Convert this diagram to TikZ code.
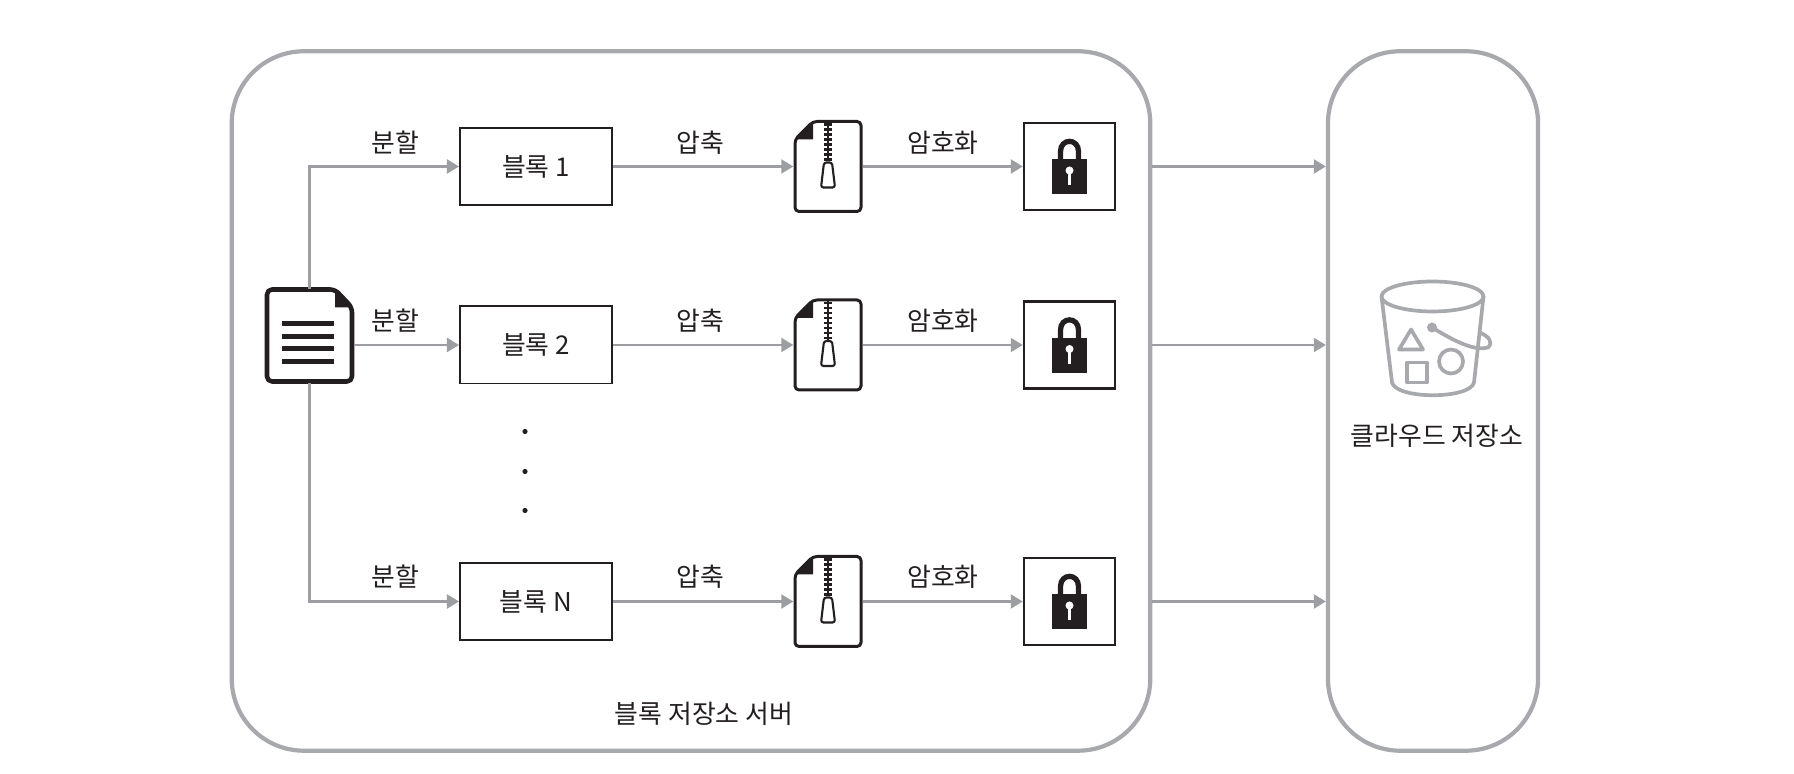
\documentclass[tikz,border=0pt]{standalone}
\usepackage{fontspec}
\setmainfont{Noto Sans CJK KR}
\usetikzlibrary{arrows.meta}
\definecolor{edgegray}{HTML}{A7A9AC}
\definecolor{linkgray}{HTML}{9C9EA1}
\definecolor{inkdark}{HTML}{231F20}
\tikzset{
  every node/.style={font=\fontsize{7.35}{9}\selectfont, text=inkdark},
  container/.style={draw=edgegray, line width=1.2pt, fill=white},
  blockbox/.style={draw=inkdark, line width=0.55pt, minimum width=1.52cm, minimum height=0.77cm},
  lockbox/.style={draw=inkdark, line width=0.7pt, minimum width=0.91cm, minimum height=0.87cm},
  iconspot/.style={minimum width=0.68cm, minimum height=0.90cm, inner sep=0pt},
  docspot/.style={minimum width=0.87cm, minimum height=0.93cm, inner sep=0pt},
  link/.style={draw=linkgray, line width=0.6pt, -{Triangle[length=0.12cm, width=0.14cm]}, color=linkgray},
  icon/.style={draw=inkdark, line width=0.85pt, line join=round},
  bucketline/.style={draw=edgegray, line width=1.05pt, line join=round}
}
\begin{document}
\begin{tikzpicture}[x=0.01cm, y=-0.01cm]
\useasboundingbox (0,-1.5) rectangle (1794,772.5);
\node[container, rounded corners=0.72cm, minimum width=9.18cm, minimum height=6.99cm] (server) at (691,399.5) {};
\node[container, rounded corners=0.72cm, minimum width=2.10cm, minimum height=6.99cm] (cloud) at (1433,399.5) {};
% source file
\node[docspot] (doc) at (309.5,334.5) {};
\draw[icon, line width=1.3pt, rounded corners=0.05cm] (335,288) -- (267,288) -- (267,380) -- (352,380) -- (352,306) -- cycle;
\fill[inkdark] (335,288) -- (352,306) -- (335,306) -- cycle;
\foreach \ly in {322,335,347,360} {
  \draw[inkdark, line width=1.15pt] (282,\ly) -- (334,\ly);
}
% one row per block
\foreach \n/\y/\t in {1/165/블록 1, 2/343.5/블록 2, 3/600/블록 N} {
  \node[blockbox] (block\n) at (536,\y) {\t};
  \node[iconspot] (zip\n) at (828,\y) {};
  \node[lockbox] (lock\n) at (1069.5,\y) {};
  \begin{scope}[shift={(0,\y)}]
    \draw[icon, rounded corners=0.04cm] (813,-45) -- (861,-45) -- (861,45) -- (795,45) -- (795,-27) -- cycle;
    \fill[inkdark] (813,-45) -- (795,-27) -- (813,-27) -- cycle;
    \draw[inkdark, line width=0.6pt] (828,-45) -- (828,-5);
    \foreach \ty in {-42,-37,...,-7} {
      \draw[inkdark, line width=0.6pt] (824,\ty) -- (832,\ty);
    }
    \draw[inkdark, line width=0.6pt, rounded corners=0.025cm] (824,-4) -- (832,-4) -- (835,21) -- (821,21) -- cycle;
    % padlock
    \draw[inkdark, line width=1.5pt] (1060.5,-7) -- (1060.5,-15) .. controls (1060.5,-28.5) and (1078.5,-28.5) .. (1078.5,-15) -- (1078.5,-7);
    \fill[inkdark] (1052,-7) rectangle (1087,28);
    \fill[white] (1069.5,4) circle[radius=4];
    \draw[white, line width=1pt] (1069.5,4) -- (1069.5,19);
  \end{scope}
  \draw[link] (block\n.east) -- (zip\n.west);
  \draw[link] (zip\n.east) -- (lock\n.west);
  \draw[link] (lock\n.east -| server.east) -- (lock\n.east -| cloud.west);
}
\draw[link] (doc.north) |- (block1.west);
\draw[link] (doc.east |- block2.west) -- (block2.west);
\draw[link] (doc.south) |- (block3.west);
% labels over the links
\foreach \n/\y in {1/141, 2/319, 3/575.5} {
  \node (split\n) at (395,\y) {분할};
  \node (press\n) at (700,\y) {압축};
  \node (crypt\n) at (943,\y) {암호화};
}
\foreach \dy in {430,470,509} {
  \fill[inkdark] (525,\dy) circle[radius=2.6];
}
\node (servername) at (704,712) {블록 저장소 서버};
\node (cloudname) at (1437,434) {클라우드 저장소};
% bucket
\draw[bucketline] (1432.5,295) ellipse[x radius=51, y radius=15];
\draw[bucketline] (1381.5,295) -- (1392,381) .. controls (1396,398) and (1470,398) .. (1474,381) -- (1483.5,295);
\fill[edgegray] (1432,326) circle[radius=5];
\draw[bucketline] (1432,326) .. controls (1455,340) and (1475,350) .. (1488,346) .. controls (1494,340) and (1488,335) .. (1480,331);
\draw[bucketline] (1411,328) -- (1423,348) -- (1399,348) -- cycle;
\draw[bucketline] (1407,361) rectangle (1427,381);
\draw[bucketline] (1451,360) circle[radius=12];
\end{tikzpicture}
\end{document}
